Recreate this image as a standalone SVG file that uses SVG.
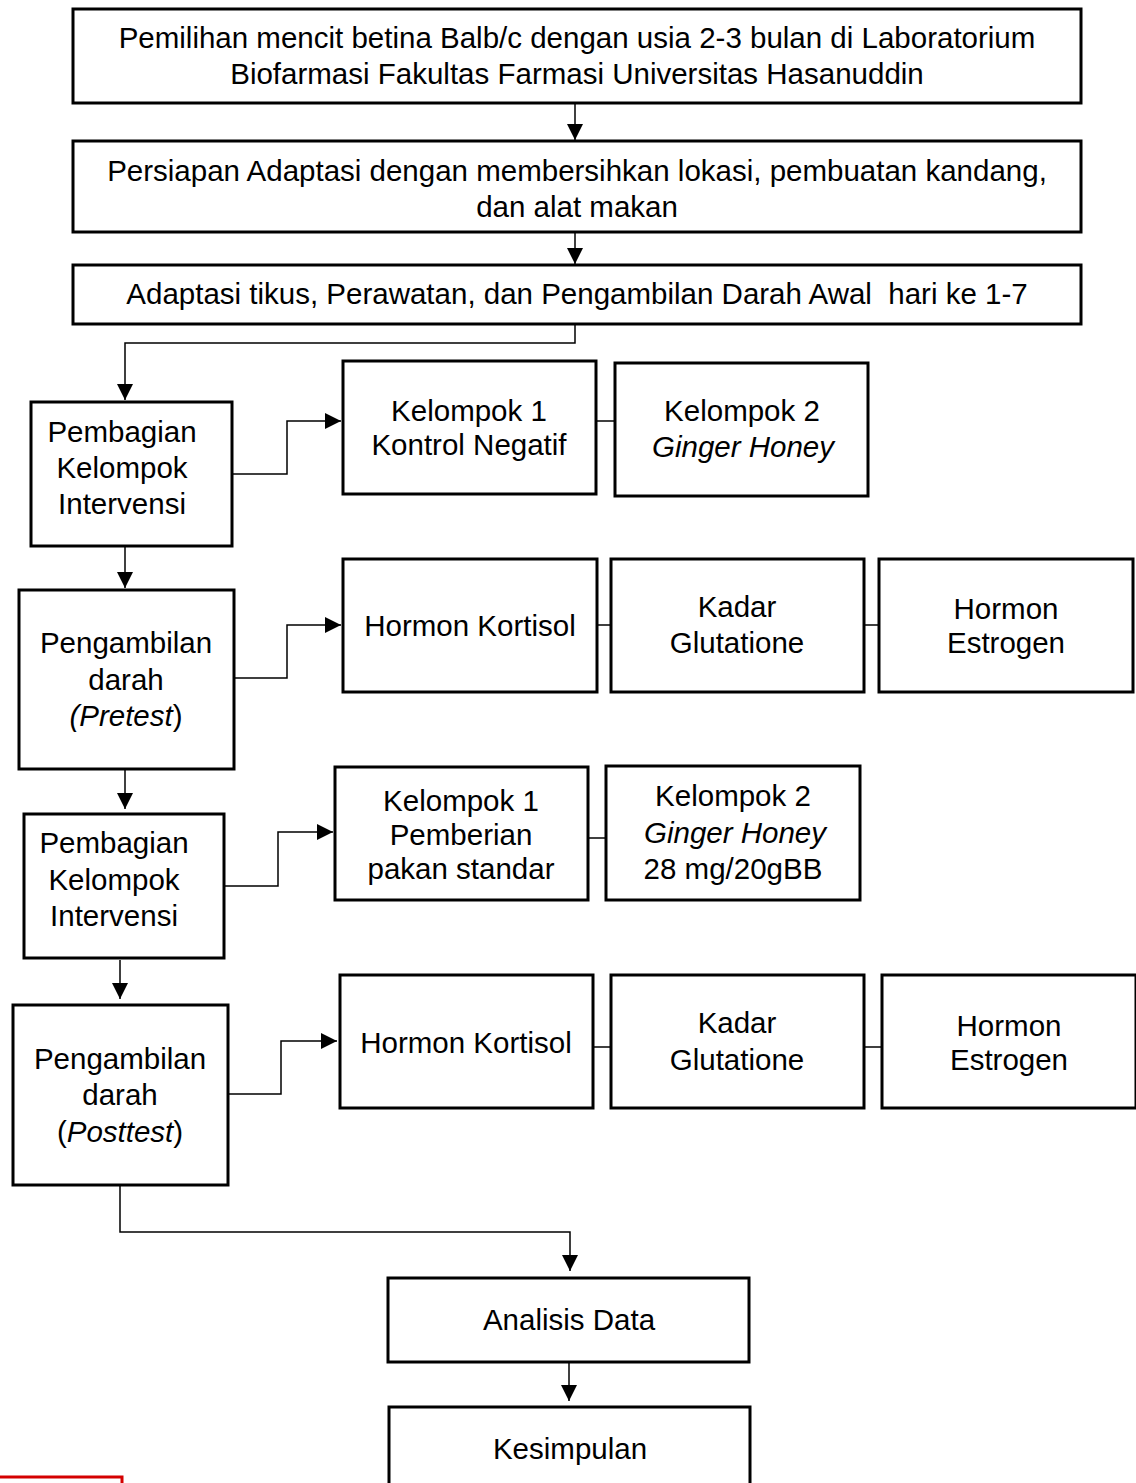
<svg xmlns="http://www.w3.org/2000/svg" width="1136" height="1483" viewBox="0 0 1136 1483">
<style>
.box{fill:#fff;stroke:#000;stroke-width:3}
.t{font-family:"Liberation Sans",Arial,sans-serif;font-size:29.5px;fill:#000;text-anchor:middle}
.i{font-style:italic}
.c{fill:none;stroke:#000;stroke-width:1.5}
</style>
<defs>
<marker id="ah" markerUnits="userSpaceOnUse" markerWidth="16" markerHeight="16" viewBox="0 0 16 16" refX="16" refY="8" orient="auto">
<path d="M0,0 L16,8 L0,16 Z" fill="#000"/>
</marker>
</defs>
<rect x="0" y="0" width="1136" height="1483" fill="#fff"/>
<g id="connectors">
<line class="c" x1="575" y1="103" x2="575" y2="140" marker-end="url(#ah)"/>
<line class="c" x1="575" y1="232" x2="575" y2="264" marker-end="url(#ah)"/>
<polyline class="c" points="575,324 575,343 125,343 125,400" marker-end="url(#ah)"/>
<polyline class="c" points="232,474 287,474 287,421 341,421" marker-end="url(#ah)"/>
<line class="c" x1="596" y1="421" x2="615" y2="421"/>
<line class="c" x1="125" y1="546" x2="125" y2="588" marker-end="url(#ah)"/>
<polyline class="c" points="234,678 287,678 287,625 341,625" marker-end="url(#ah)"/>
<line class="c" x1="597" y1="625" x2="611" y2="625"/>
<line class="c" x1="864" y1="625" x2="879" y2="625"/>
<line class="c" x1="125" y1="769" x2="125" y2="809" marker-end="url(#ah)"/>
<polyline class="c" points="224,886 278,886 278,832 333,832" marker-end="url(#ah)"/>
<line class="c" x1="588" y1="838" x2="606" y2="838"/>
<line class="c" x1="120" y1="960" x2="120" y2="999" marker-end="url(#ah)"/>
<polyline class="c" points="228,1094 281,1094 281,1041 337,1041" marker-end="url(#ah)"/>
<line class="c" x1="593" y1="1047" x2="611" y2="1047"/>
<line class="c" x1="864" y1="1047" x2="882" y2="1047"/>
<polyline class="c" points="120,1185 120,1232 570,1232 570,1271" marker-end="url(#ah)"/>
<line class="c" x1="569" y1="1362" x2="569" y2="1401" marker-end="url(#ah)"/>
</g>
<g id="n1"><rect class="box" x="73" y="9" width="1008" height="94"/>
<text class="t" x="577" y="48">Pemilihan mencit betina Balb/c dengan usia 2-3 bulan di Laboratorium</text>
<text class="t" x="577" y="84">Biofarmasi Fakultas Farmasi Universitas Hasanuddin</text></g>
<g id="n2"><rect class="box" x="73" y="141" width="1008" height="91"/>
<text class="t" x="577" y="181">Persiapan Adaptasi dengan membersihkan lokasi, pembuatan kandang,</text>
<text class="t" x="577" y="217">dan alat makan</text></g>
<g id="n3"><rect class="box" x="73" y="265" width="1008" height="59"/>
<text class="t" x="577" y="304" xml:space="preserve">Adaptasi tikus, Perawatan, dan Pengambilan Darah Awal  hari ke 1-7</text></g>
<g id="n4"><rect class="box" x="31" y="402" width="201" height="144"/>
<text class="t" x="122" y="442">Pembagian</text>
<text class="t" x="122" y="478">Kelompok</text>
<text class="t" x="122" y="514">Intervensi</text></g>
<g id="n5"><rect class="box" x="343" y="361" width="253" height="133"/>
<text class="t" x="469" y="421">Kelompok 1</text>
<text class="t" x="469" y="455">Kontrol Negatif</text></g>
<g id="n6"><rect class="box" x="615" y="363" width="253" height="133"/>
<text class="t" x="742" y="421">Kelompok 2</text>
<text class="t i" x="743" y="457">Ginger Honey</text></g>
<g id="n7"><rect class="box" x="19" y="590" width="215" height="179"/>
<text class="t" x="126" y="653">Pengambilan</text>
<text class="t" x="126" y="690">darah</text>
<text class="t" x="126" y="726"><tspan class="i">(Pretest</tspan>)</text></g>
<g id="n8"><rect class="box" x="343" y="559" width="254" height="133"/>
<text class="t" x="470" y="636">Hormon Kortisol</text></g>
<g id="n9"><rect class="box" x="611" y="559" width="253" height="133"/>
<text class="t" x="737" y="617">Kadar</text>
<text class="t" x="737" y="653">Glutatione</text></g>
<g id="n10"><rect class="box" x="879" y="559" width="254" height="133"/>
<text class="t" x="1006" y="619">Hormon</text>
<text class="t" x="1006" y="653">Estrogen</text></g>
<g id="n11"><rect class="box" x="24" y="814" width="200" height="144"/>
<text class="t" x="114" y="853">Pembagian</text>
<text class="t" x="114" y="890">Kelompok</text>
<text class="t" x="114" y="926">Intervensi</text></g>
<g id="n12"><rect class="box" x="335" y="767" width="253" height="133"/>
<text class="t" x="461" y="811">Kelompok 1</text>
<text class="t" x="461" y="845">Pemberian</text>
<text class="t" x="461" y="879">pakan standar</text></g>
<g id="n13"><rect class="box" x="606" y="766" width="254" height="134"/>
<text class="t" x="733" y="806">Kelompok 2</text>
<text class="t i" x="735" y="843">Ginger Honey</text>
<text class="t" x="733" y="879">28 mg/20gBB</text></g>
<g id="n14"><rect class="box" x="13" y="1005" width="215" height="180"/>
<text class="t" x="120" y="1069">Pengambilan</text>
<text class="t" x="120" y="1105">darah</text>
<text class="t" x="120" y="1142">(<tspan class="i">Posttest</tspan>)</text></g>
<g id="n15"><rect class="box" x="340" y="975" width="253" height="133"/>
<text class="t" x="466" y="1053">Hormon Kortisol</text></g>
<g id="n16"><rect class="box" x="611" y="975" width="253" height="133"/>
<text class="t" x="737" y="1033">Kadar</text>
<text class="t" x="737" y="1070">Glutatione</text></g>
<g id="n17"><rect class="box" x="882" y="975" width="254" height="133"/>
<text class="t" x="1009" y="1036">Hormon</text>
<text class="t" x="1009" y="1070">Estrogen</text></g>
<g id="n18"><rect class="box" x="388" y="1278" width="361" height="84"/>
<text class="t" x="569" y="1330">Analisis Data</text></g>
<g id="n19"><rect class="box" x="389" y="1407" width="361" height="90"/>
<text class="t" x="570" y="1459">Kesimpulan</text></g>
<rect x="-3" y="1477" width="125" height="20" fill="none" stroke="#d40000" stroke-width="3"/>
</svg>
